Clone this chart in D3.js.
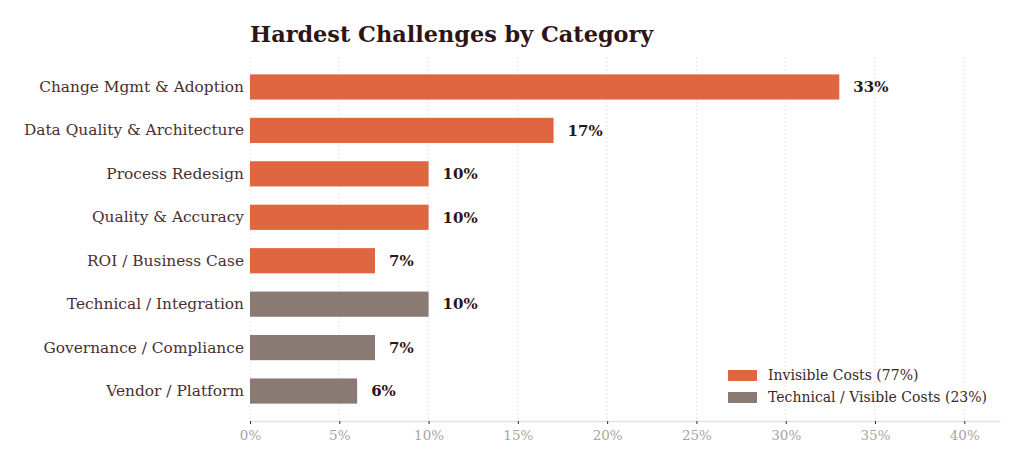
<!DOCTYPE html>
<html>
<head>
<meta charset="utf-8">
<script src="https://cdn.jsdelivr.net/npm/d3@7"></script>
<style>
	body { margin: 0; background: #fff; }
	svg { display: block; font-family: 'DejaVu Serif', serif; }
</style>
</head>
<body>
<svg id="chart" width="1024" height="474"></svg>
<script>
	'use strict';

	// Data
	var categories = ['Change Mgmt & Adoption', 'Data Quality & Architecture', 'Process Redesign',
		'Quality & Accuracy', 'ROI / Business Case', 'Technical / Integration',
		'Governance / Compliance', 'Vendor / Platform'];
	var values = [33, 17, 10, 10, 7, 10, 7, 6];
	var groups = ['invisible', 'invisible', 'invisible', 'invisible', 'invisible', 'visible', 'visible', 'visible'];
	var legendLabels = ['Invisible Costs (77%)', 'Technical / Visible Costs (23%)'];
	var xTicks = [0, 5, 10, 15, 20, 25, 30, 35, 40];

	var colors = {invisible: '#e06541', visible: '#8a7a74'};
	var margin = {top: 57, left: 250, right: 24, bottom: 53};
	var width = 1024, height = 474;

	var svg = d3.select('#chart');

	var x = d3.scaleLinear()
		.domain([0, 42])
		.range([margin.left, width - margin.right]);

	var y = d3.scaleBand()
		.domain(categories)
		.range([margin.top, height - margin.bottom])
		.paddingInner(0.42)
		.paddingOuter(0.4);

	// Gridlines
	svg.append('g')
		.selectAll('line')
		.data(xTicks)
		.enter().append('line')
			.attr('x1', function(d) { return x(d); })
			.attr('x2', function(d) { return x(d); })
			.attr('y1', margin.top)
			.attr('y2', height - margin.bottom)
			.attr('stroke', '#ebe7e7')
			.attr('stroke-width', 1)
			.attr('stroke-dasharray', '2,2');

	// Bars
	svg.append('g')
		.selectAll('rect')
		.data(categories)
		.enter().append('rect')
			.attr('x', x(0))
			.attr('y', function(d) { return y(d); })
			.attr('width', function(d, i) { return x(values[i]) - x(0); })
			.attr('height', y.bandwidth())
			.attr('fill', function(d, i) { return colors[groups[i]]; });

	// Value labels
	svg.append('g')
		.selectAll('text')
		.data(categories)
		.enter().append('text')
			.attr('x', function(d, i) { return x(values[i]) + 14; })
			.attr('y', function(d) { return y(d) + y.bandwidth() / 2; })
			.attr('dy', '0.35em')
			.attr('font-size', 15)
			.attr('font-weight', 'bold')
			.attr('fill', '#2e1416')
			.text(function(d, i) { return values[i] + '%'; });

	// Category labels
	var yAxis = d3.axisLeft(y).tickSize(0).tickPadding(6);
	var gy = svg.append('g')
		.attr('transform', 'translate(' + margin.left + ',0)')
		.call(yAxis);
	gy.select('.domain').remove();
	gy.selectAll('text')
		.attr('font-family', 'DejaVu Serif')
		.attr('font-size', 15.4)
		.attr('fill', '#4b2e30');

	// X axis
	var xAxis = d3.axisBottom(x)
		.tickValues(xTicks)
		.tickFormat(function(d) { return d + '%'; })
		.tickSize(3)
		.tickPadding(6)
		.tickSizeOuter(0);
	var gx = svg.append('g')
		.attr('transform', 'translate(0,' + (height - margin.bottom) + ')')
		.call(xAxis);
	gx.select('.domain').attr('stroke', '#e6e2e2').attr('stroke-width', 1.5);
	gx.selectAll('.tick line').attr('stroke', '#3a2a2a');
	gx.selectAll('text')
		.attr('font-family', 'DejaVu Serif')
		.attr('font-size', 13.5)
		.attr('fill', '#aaa3a3');

	// Title
	svg.append('text')
		.attr('x', margin.left)
		.attr('y', 42)
		.attr('font-size', 22.4)
		.attr('font-weight', 'bold')
		.attr('fill', '#2e1416')
		.text('Hardest Challenges by Category');

	// Legend
	var legend = svg.append('g')
		.attr('transform', 'translate(728,370)');
	var item = legend.selectAll('g')
		.data(legendLabels)
		.enter().append('g')
			.attr('transform', function(d, i) { return 'translate(0,' + (i * 22) + ')'; });
	item.append('rect')
		.attr('width', 29)
		.attr('height', 11)
		.attr('fill', function(d, i) { return i === 0 ? colors.invisible : colors.visible; });
	item.append('text')
		.attr('x', 40)
		.attr('y', 5.5)
		.attr('dy', '0.35em')
		.attr('font-size', 14)
		.attr('fill', '#3a2a2a')
		.text(function(d) { return d; });
</script>
</body>
</html>
